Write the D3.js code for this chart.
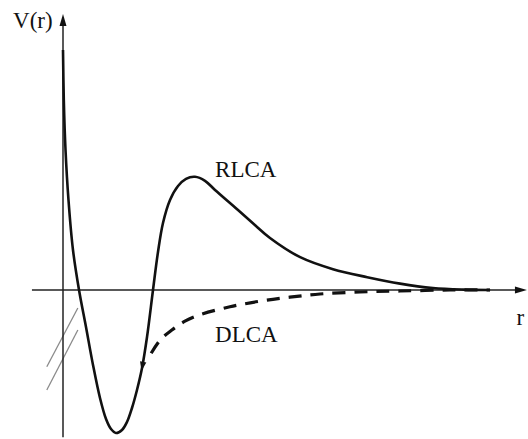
<!DOCTYPE html>
<html>
<head>
<meta charset="utf-8">
<script src="https://cdn.jsdelivr.net/npm/d3@7"></script>
<style>
  html, body { margin: 0; padding: 0; background: #fff; }
  svg { display: block; }
  text { font-family: "Liberation Serif", "DejaVu Serif", serif; fill: #111; }
</style>
</head>
<body>
<svg id="chart" width="528" height="439"></svg>
<script>
// Potential V(r) sketch: reaction-limited (RLCA) curve with a barrier,
// diffusion-limited (DLCA) branch without it.
const rlcaR = [0.0, 0.018, 0.056, 0.122, 0.222, 0.356, 0.511, 0.667, 0.822, 0.956, 1.067, 1.178,
               1.311, 1.422, 1.533, 1.644, 1.756, 1.867, 2.0, 2.111, 2.222, 2.378, 2.556, 2.733, 2.933,
               3.156, 3.378, 3.889, 4.27, 4.6, 5.27, 6.0, 6.76, 7.49, 8.22, 8.9, 9.49];
const rlcaV = [6.0, 4.75, 3.5, 2.25, 1.0, 0.0, -0.925, -1.875, -2.7, -3.225, -3.475, -3.575,
               -3.5, -3.3, -2.95, -2.5, -1.95, -1.175, 0.0, 0.95, 1.675, 2.25, 2.6, 2.78, 2.83,
               2.73, 2.5, 2.0, 1.62, 1.3, 0.82, 0.52, 0.32, 0.16, 0.05, 0.01, 0.0];

const dlcaR = [1.96, 2.16, 2.42, 2.71, 3.04, 3.71, 4.38, 5.04, 5.71, 6.6, 7.49, 8.6, 9.49];
const dlcaV = [-1.58, -1.25, -1.0, -0.78, -0.62, -0.42, -0.28, -0.18, -0.1, -0.05, -0.025, 0.0, 0.0];

// Double slash on the vertical axis (axis break)
const breakR1 = [-0.36, 0.33];
const breakV1 = [-1.92, -0.45];
const breakR2 = [-0.36, 0.33];
const breakV2 = [-2.5, -1.0];

// Axis extents
const axisR = [-0.69, 10.31];
const axisV = [-3.68, 6.9];

// Curve-direction arrow on the inner wall (tail, tip)
const arrowR = [1.785, 1.745];
const arrowV = [-1.78, -2.02];

const labels = [
  { text: "V(r)", r: -1.11, v: 6.55 },
  { text: "r", r: 10.08, v: -0.88 },
  { text: "RLCA", r: 3.38, v: 2.83 },
  { text: "DLCA", r: 3.38, v: -1.3 }
];

const svg = d3.select("#chart");
const x = d3.scaleLinear().domain([0, 10]).range([63, 513]);
const y = d3.scaleLinear().domain([0, 6]).range([290, 50]);

const zip = (a, b) => a.map((d, i) => [d, b[i]]);
const line = d3.line().x(d => x(d[0])).y(d => y(d[1]));
const smooth = d3.line().x(d => x(d[0])).y(d => y(d[1])).curve(d3.curveCatmullRom.alpha(0.5));

// axis break slashes
svg.append("path").attr("d", line(zip(breakR1, breakV1)))
  .attr("stroke", "#8a8a8a").attr("stroke-width", 1.3).attr("fill", "none");
svg.append("path").attr("d", line(zip(breakR2, breakV2)))
  .attr("stroke", "#8a8a8a").attr("stroke-width", 1.3).attr("fill", "none");

// axes
svg.append("line")
  .attr("x1", x(axisR[0])).attr("x2", x(axisR[1]) - 6)
  .attr("y1", y(0)).attr("y2", y(0))
  .attr("stroke", "#222").attr("stroke-width", 1.5);
svg.append("line")
  .attr("x1", x(0)).attr("x2", x(0))
  .attr("y1", y(axisV[0])).attr("y2", y(axisV[1]) + 6)
  .attr("stroke", "#222").attr("stroke-width", 1.5);

// arrowheads on axes
const xt = x(axisR[1]), yt = y(0);
svg.append("path")
  .attr("d", `M${xt},${yt} L${xt - 12},${yt - 3.5} L${xt - 12},${yt + 3.5} Z`)
  .attr("fill", "#111");
const vx = x(0), vt = y(axisV[1]);
svg.append("path")
  .attr("d", `M${vx},${vt} L${vx - 3.5},${vt + 12} L${vx + 3.5},${vt + 12} Z`)
  .attr("fill", "#111");

// DLCA dashed branch
svg.append("path").attr("d", smooth(zip(dlcaR, dlcaV)))
  .attr("stroke", "#111").attr("stroke-width", 3.2).attr("fill", "none")
  .attr("stroke-dasharray", "13,9");

// RLCA solid curve
svg.append("path").attr("d", smooth(zip(rlcaR, rlcaV)))
  .attr("stroke", "#111").attr("stroke-width", 2.6).attr("fill", "none")
  .attr("stroke-linejoin", "round");

// small arrowhead along the inner wall
{
  const p0 = [x(arrowR[0]), y(arrowV[0])], p1 = [x(arrowR[1]), y(arrowV[1])];
  const ang = Math.atan2(p1[1] - p0[1], p1[0] - p0[0]) * 180 / Math.PI;
  svg.append("path")
    .attr("d", "M0,0 L-9,-3.2 L-9,3.2 Z")
    .attr("transform", `translate(${p1[0]},${p1[1]}) rotate(${ang})`)
    .attr("fill", "#111");
}

// text labels
svg.selectAll("text.lbl").data(labels).enter().append("text")
  .attr("class", "lbl")
  .attr("x", d => x(d.r)).attr("y", d => y(d.v))
  .attr("font-size", 23)
  .text(d => d.text);
</script>
</body>
</html>
